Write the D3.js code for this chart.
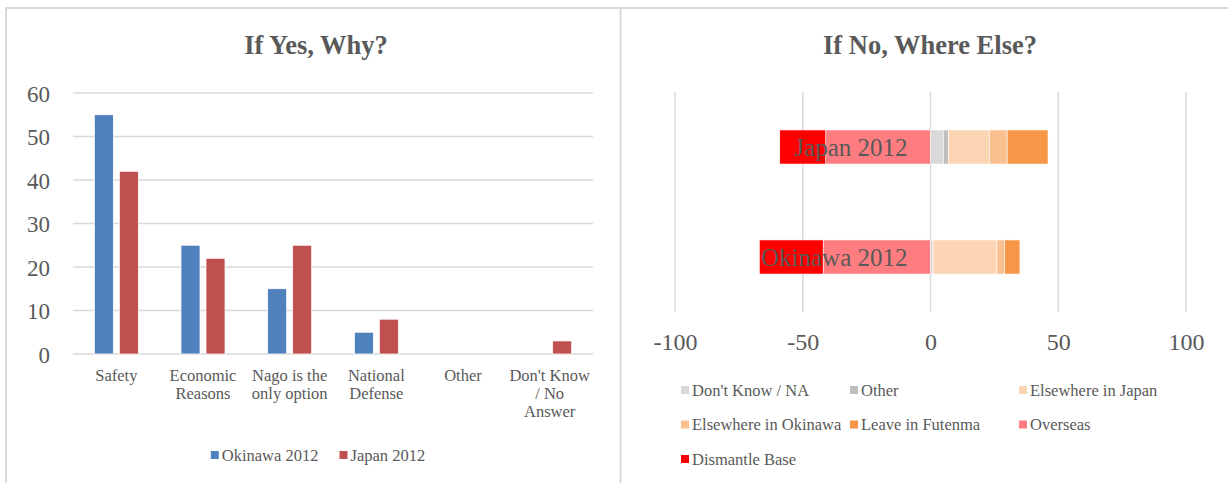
<!DOCTYPE html>
<html>
<head>
<meta charset="utf-8">
<script src="https://cdnjs.cloudflare.com/ajax/libs/d3/7.8.5/d3.min.js"></script>
<style>
body { margin: 0; background: #fff; }
svg text { font-family: "Liberation Serif", "DejaVu Serif", serif; fill: #595959; }
</style>
</head>
<body>
<svg width="1228" height="483"></svg>
<script>
// left chart data
var reasons = ["Safety", "Economic\nReasons", "Nago is the\nonly option", "National\nDefense", "Other", "Don't Know\n/ No\nAnswer"];
var yesSeries = ["Okinawa 2012", "Japan 2012"];
var okinawaYes = [55, 25, 15, 5, 0, 0];
var japanYes = [42, 22, 25, 8, 0, 3];
var yTicks = [0, 10, 20, 30, 40, 50, 60];

// right chart data
var groups = ["Japan 2012", "Okinawa 2012"];
var whereKeys = ["Don't Know / NA", "Other", "Elsewhere in Japan", "Elsewhere in Okinawa", "Leave in Futenma", "Overseas", "Dismantle Base"];
var japanNo = [5, 2, 16, 7, 16, -41, -18];
var okinawaNo = [1, 0, 25, 3, 6, -42, -25];
var xTicks = [-100, -50, 0, 50, 100];

var yesColors = ["#4f81bd", "#c0504d"];
var whereColors = ["#d9d9d9", "#bfbfbf", "#fcd5b5", "#fac090", "#f79646", "#ff7c80", "#ff0000"];

var svg = d3.select("svg");
var grid = "#d9d9d9";
var small = "16.5px";

// frame
svg.append("line").attr("x1", 5).attr("x2", 1228).attr("y1", 8).attr("y2", 8).style("stroke", grid).style("stroke-width", 2);
svg.append("line").attr("x1", 6).attr("x2", 6).attr("y1", 8).attr("y2", 483).style("stroke", grid).style("stroke-width", 2);
svg.append("line").attr("x1", 620.5).attr("x2", 620.5).attr("y1", 8).attr("y2", 483).style("stroke", grid).style("stroke-width", 2);

// ---------- left: If Yes, Why? ----------
var left = svg.append("g").attr("id", "leftG");
left.append("text").attr("x", 316).attr("y", 54).attr("text-anchor", "middle")
  .style("font-size", "26.5px").style("font-weight", "bold").text("If Yes, Why?");

var xScale = d3.scaleBand().domain(reasons).range([73, 593]);
var yScale = d3.scaleLinear().domain([0, 60]).range([354, 93]);
var subScale = d3.scaleBand().domain(yesSeries).range([-22, 22]).paddingInner(0.24);

left.append("g").selectAll("line").data(yTicks).enter().append("line")
  .attr("x1", 73).attr("x2", 593)
  .attr("y1", function(d){return yScale(d)}).attr("y2", function(d){return yScale(d)})
  .style("stroke", grid).style("stroke-width", 1.5);

var yAxis = d3.axisLeft(yScale).tickValues(yTicks).tickSize(0).tickPadding(0);
var yAxisG = left.append("g").attr("transform", "translate(50,0)").call(yAxis);
yAxisG.select(".domain").remove();
yAxisG.selectAll("text").style("font-size", "23px").style("fill", "#595959")
  .style("font-family", "Liberation Serif").attr("dy", "0.35em");

var yesData = [okinawaYes, japanYes];
yesData.forEach(function(vals, s){
  left.append("g").selectAll("rect").data(vals).enter().append("rect")
    .attr("x", function(d, i){return xScale(reasons[i]) + xScale.bandwidth()/2 + subScale(yesSeries[s])})
    .attr("width", subScale.bandwidth())
    .attr("y", function(d){return yScale(d)})
    .attr("height", function(d){return yScale(0) - yScale(d)})
    .style("fill", yesColors[s])
    .style("stroke", "#fff").style("stroke-width", 0.75);
});

// category labels
var catG = left.append("g").selectAll("text").data(reasons).enter().append("text")
  .attr("text-anchor", "middle")
  .attr("x", function(d){return xScale(d) + xScale.bandwidth()/2})
  .attr("y", 380.5)
  .style("font-size", small);
catG.each(function(d){
  var t = d3.select(this);
  d.split("\n").forEach(function(line, k){
    t.append("tspan").attr("x", t.attr("x")).attr("dy", k == 0 ? 0 : 18).text(line);
  });
});

// legend
var legL = left.append("g");
var lx = 0;
yesSeries.forEach(function(name, s){
  var it = legL.append("g").attr("transform", "translate(" + lx + ",0)");
  it.append("rect").attr("x", 0).attr("y", -4).attr("width", 8).attr("height", 8).style("fill", yesColors[s]);
  var tx = it.append("text").attr("x", 11).attr("y", 5.5).style("font-size", small).text(name);
  lx += 11 + tx.node().getComputedTextLength() + 21;
});
lx -= 21;
legL.attr("transform", "translate(" + (318 - lx/2) + ",455)");

// ---------- right: If No, Where Else? ----------
var right = svg.append("g").attr("id", "rightG");
right.append("text").attr("x", 930).attr("y", 54).attr("text-anchor", "middle")
  .style("font-size", "26.5px").style("font-weight", "bold").text("If No, Where Else?");

var xs = d3.scaleLinear().domain([-100, 100]).range([675, 1186]);
var ys = d3.scaleBand().domain(groups).range([92, 312]).paddingInner(0.69).paddingOuter(0.345);

right.append("g").selectAll("line").data(xTicks).enter().append("line")
  .attr("x1", function(d){return xs(d)}).attr("x2", function(d){return xs(d)})
  .attr("y1", 92).attr("y2", 312)
  .style("stroke", grid).style("stroke-width", 1.5);

var xAxis = d3.axisBottom(xs).tickValues(xTicks).tickSize(0).tickPadding(0)
  .tickFormat(function(d){return String(d)});
var xAxisG = right.append("g").attr("transform", "translate(0,333)").call(xAxis);
xAxisG.select(".domain").remove();
xAxisG.selectAll("text").style("font-size", "24px").style("fill", "#595959")
  .style("font-family", "Liberation Serif").attr("dy", "0.71em");

var rows = groups.map(function(g, i){
  var r = {group: g};
  var vals = [japanNo, okinawaNo][i];
  whereKeys.forEach(function(k, j){ r[k] = vals[j]; });
  return r;
});
var stacked = d3.stack().keys(whereKeys).offset(d3.stackOffsetDiverging)(rows);

right.append("g").selectAll("g").data(stacked).enter().append("g")
  .style("fill", function(d, i){return whereColors[i]})
  .selectAll("rect").data(function(d){return d}).enter().append("rect")
  .attr("y", function(d){return ys(d.data.group)})
  .attr("height", ys.bandwidth())
  .attr("x", function(d){return xs(Math.min(d[0], d[1]))})
  .attr("width", function(d){return Math.abs(xs(d[1]) - xs(d[0]))})
  .style("stroke", "#fff").style("stroke-width", 0.6);

// row labels drawn next to the 0 axis, over the bars
right.append("g").selectAll("text").data(groups).enter().append("text")
  .attr("text-anchor", "end")
  .attr("x", xs(0) - 23)
  .attr("y", function(d){return ys(d) + ys.bandwidth()/2})
  .attr("dy", "0.35em")
  .style("font-size", "25px")
  .text(function(d){return d});

// legend
var legR = right.append("g").selectAll("g").data(whereKeys).enter().append("g")
  .attr("transform", function(d, i){return "translate(" + (681 + (i % 3) * 169) + "," + (390 + Math.floor(i / 3) * 34.5) + ")"});
legR.append("rect").attr("x", 0).attr("y", -4).attr("width", 8).attr("height", 8)
  .style("fill", function(d, i){return whereColors[i]});
legR.append("text").attr("x", 11).attr("y", 5.5).style("font-size", small).text(function(d){return d});
</script>
</body>
</html>
